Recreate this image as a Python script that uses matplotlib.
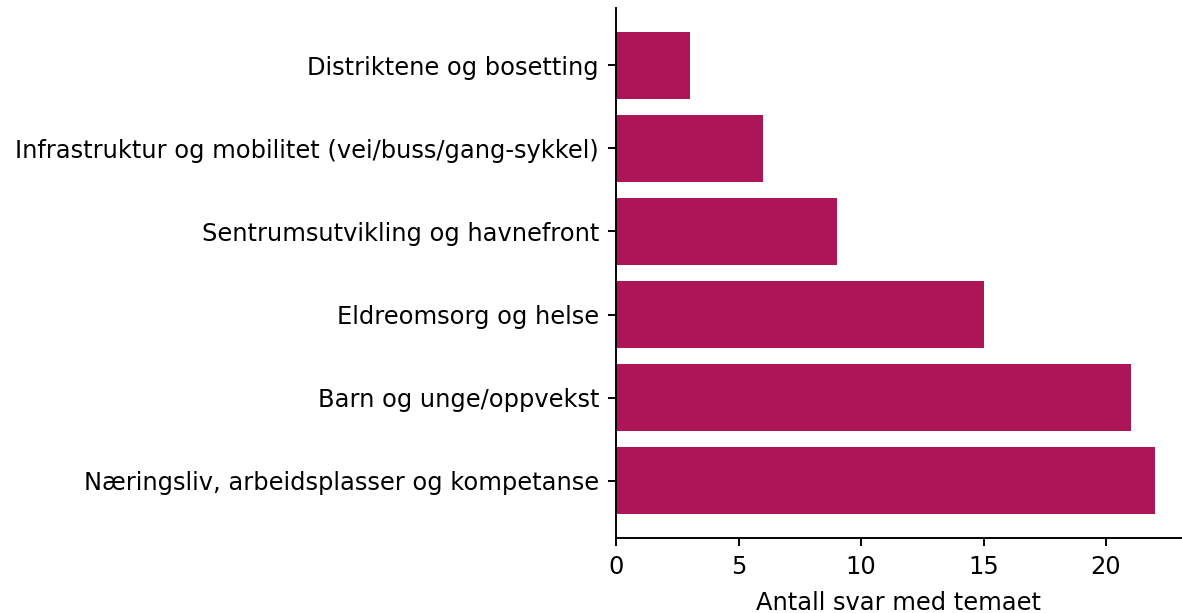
import matplotlib
matplotlib.use("Agg")
import matplotlib.pyplot as plt

temaer = [
    "Næringsliv, arbeidsplasser og kompetanse",
    "Barn og unge/oppvekst",
    "Eldreomsorg og helse",
    "Sentrumsutvikling og havnefront",
    "Infrastruktur og mobilitet (vei/buss/gang-sykkel)",
    "Distriktene og bosetting",
]
antall = [22, 21, 15, 9, 6, 3]

dpi = 174
fig = plt.figure(figsize=(1182 / dpi, 613 / dpi), dpi=dpi)
ax = fig.add_axes([616 / 1182, 1 - 538 / 613, 1 - 616 / 1182, 530 / 613])

ax.barh(temaer, antall, color="#ad1556")
ax.set_xlabel("Antall svar med temaet", labelpad=5)
ax.spines["top"].set_visible(False)
ax.spines["right"].set_visible(False)

fig.savefig("out.png", dpi=dpi)
